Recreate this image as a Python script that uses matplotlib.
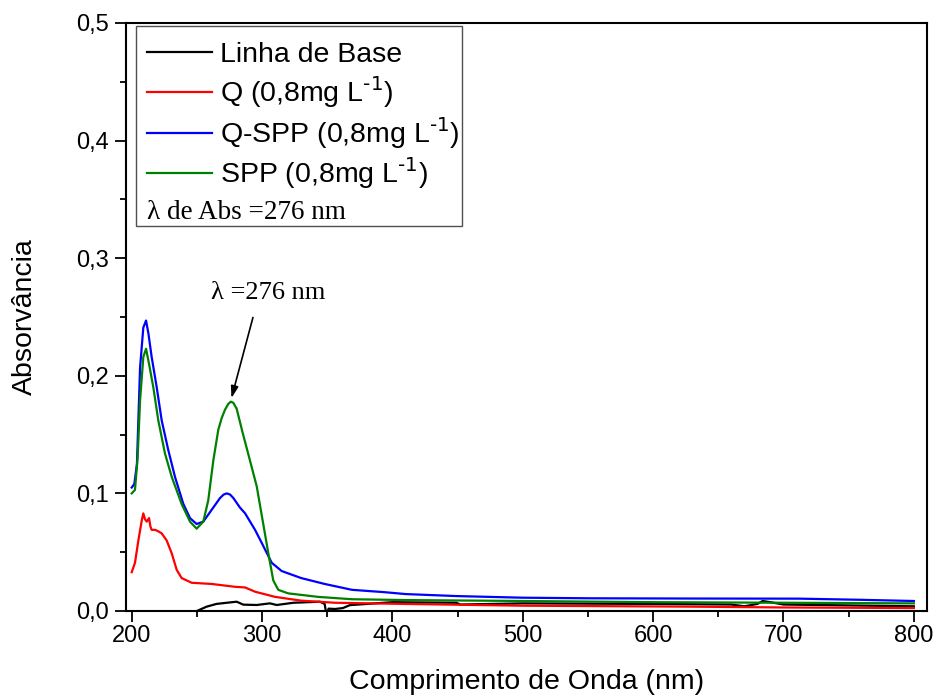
import matplotlib
matplotlib.use("Agg")
import matplotlib.pyplot as plt
from matplotlib.patches import Rectangle
from matplotlib.ticker import MultipleLocator, FuncFormatter

plt.rcParams['font.family'] = ['Liberation Sans', 'DejaVu Sans']
plt.rcParams['mathtext.default'] = 'regular'

# Linha de Base
base_x = [250, 257.5, 265, 272.9, 280.5, 285.6, 295.9, 306, 311.2, 324, 344.4, 348, 349.5,
          351, 356, 362, 367.4, 400, 449, 452, 500, 600, 660, 670, 680, 684, 690, 700, 800]
base_y = [0.0, 0.0037, 0.006, 0.007, 0.0079, 0.0054, 0.0051, 0.0065, 0.0051, 0.007, 0.0079, 0.006, -0.004,
          0.002, 0.0017, 0.0025, 0.005, 0.0075, 0.007, 0.0055, 0.0065, 0.006, 0.0055, 0.004, 0.006, 0.0085,
          0.0075, 0.0055, 0.004]

# Q (0,8mg L-1)
q_x = [200, 202.5, 205.1, 207.7, 208.9, 210.2, 211.5, 213.3, 214.3, 215.3, 217.9, 220, 223, 226.8,
       230.7, 234.5, 238.3, 246, 261.3, 279, 287, 294.6, 310, 330, 356, 410, 500, 628, 700, 800]
q_y = [0.033, 0.041, 0.060, 0.077, 0.083, 0.078, 0.076, 0.079, 0.072, 0.069, 0.069, 0.068, 0.066, 0.060,
       0.049, 0.035, 0.028, 0.024, 0.023, 0.0206, 0.020, 0.0164, 0.012, 0.0088, 0.007, 0.006, 0.0045,
       0.0037, 0.003, 0.0025]

# Q-SPP (0,8mg L-1)
qspp_x = [200, 202, 204, 206.4, 208.9, 211, 212.8, 215.3, 219.2, 223, 228, 233.2, 239.6, 244.7, 249.8,
          254.9, 261.3, 267.7, 270.5, 272.9, 275.5, 278, 280.5, 283, 287, 294.6, 299.7, 307.4, 315, 330,
          348, 369, 394, 410, 449, 500, 551, 628, 712, 760, 800]
qspp_y = [0.105, 0.108, 0.125, 0.207, 0.241, 0.247, 0.236, 0.216, 0.190, 0.162, 0.137, 0.114, 0.091, 0.079,
          0.074, 0.076, 0.086, 0.096, 0.099, 0.100, 0.099, 0.096, 0.092, 0.088, 0.083, 0.069, 0.058, 0.041,
          0.034, 0.028, 0.023, 0.018, 0.016, 0.0144, 0.0127, 0.0113, 0.0108, 0.0106, 0.0105, 0.0095, 0.0085]

# SPP (0,8mg L-1)
spp_x = [200, 202.5, 204.5, 206.4, 208.9, 211, 213.3, 216.6, 220.4, 225.5, 230.7, 238.3, 244.7, 249.8,
         254.9, 258.7, 262.6, 266.4, 269, 271.5, 274, 276, 278, 280.5, 285, 290.7, 295.9, 300.9, 304.8,
         308.6, 312.4, 320, 343, 369, 410, 500, 600, 700, 800]
spp_y = [0.100, 0.103, 0.130, 0.179, 0.216, 0.223, 0.210, 0.190, 0.162, 0.134, 0.114, 0.091, 0.076, 0.070,
         0.076, 0.094, 0.128, 0.154, 0.164, 0.171, 0.176, 0.178, 0.177, 0.172, 0.152, 0.128, 0.106, 0.074,
         0.049, 0.026, 0.018, 0.015, 0.012, 0.010, 0.0093, 0.0085, 0.0075, 0.007, 0.0065]

labels = ['Linha de Base', 'Q (0,8mg L$^{\\text{-1}}$)', 'Q-SPP (0,8mg L$^{\\text{-1}}$)',
          'SPP (0,8mg L$^{\\text{-1}}$)']
colors = ['black', '#ff0000', '#0000ff', '#008000']

fig = plt.figure(figsize=(9.36, 6.99), dpi=100)
ax = fig.add_axes([0.1346, 0.1259, 0.8558, 0.8412])

series = [(base_x, base_y), (q_x, q_y), (qspp_x, qspp_y), (spp_x, spp_y)]
for (xs, ys), lab, c in zip(series, labels, colors):
    ax.plot(xs, ys, color=c, lw=1.6, label=lab)

ax.set_xlim(195.6, 810.1)
ax.set_ylim(0, 0.5)

ax.xaxis.set_major_locator(MultipleLocator(100))
ax.xaxis.set_minor_locator(MultipleLocator(50))
ax.yaxis.set_major_locator(MultipleLocator(0.1))
ax.yaxis.set_minor_locator(MultipleLocator(0.05))
ax.yaxis.set_major_formatter(FuncFormatter(lambda v, p: f'{v:.1f}'.replace('.', ',')))

ax.tick_params(which='major', direction='out', length=8, width=1.3, labelsize=17, pad=2)
ax.tick_params(which='minor', direction='out', length=4.5, width=1.3)
ax.tick_params(axis='y', pad=4)
for sp in ax.spines.values():
    sp.set_linewidth(1.5)

ax.set_xlabel('Comprimento de Onda (nm)', fontsize=20.5, labelpad=16)
ax.set_ylabel('Absorvância', fontsize=20.5, labelpad=28)

# legend: frame, line samples and labels
ax.add_patch(Rectangle((0.0125, 0.6548), 0.407, 0.3401, transform=ax.transAxes,
                       fill=False, edgecolor='#505050', lw=1.0, zorder=5))
row_y = [0.9507, 0.8827, 0.8129, 0.7449]
for y, lab, c in zip(row_y, labels, colors):
    ax.plot([0.0262, 0.1074], [y, y], color=c, lw=1.6, transform=ax.transAxes, clip_on=False)
    ax.text(0.1174, y - 0.017, lab, transform=ax.transAxes, va='baseline', ha='left', fontsize=20.5)
ax.text(0.0262, 0.677, 'λ de Abs =276 nm', transform=ax.transAxes, va='center', ha='left',
        fontsize=19.5, family=['Liberation Serif', 'DejaVu Serif'])

# peak annotation
ax.annotate('', xy=(276.5, 0.181), xytext=(293, 0.2496),
            arrowprops=dict(arrowstyle='-|>,head_length=0.7,head_width=0.22', color='black',
                            lw=1.2, shrinkA=0, shrinkB=0), annotation_clip=False)
ax.text(304.5, 0.2708, 'λ =276 nm', ha='center', va='center', fontsize=19,
        family=['Liberation Serif', 'DejaVu Serif'])

fig.savefig('out.png', dpi=100)
